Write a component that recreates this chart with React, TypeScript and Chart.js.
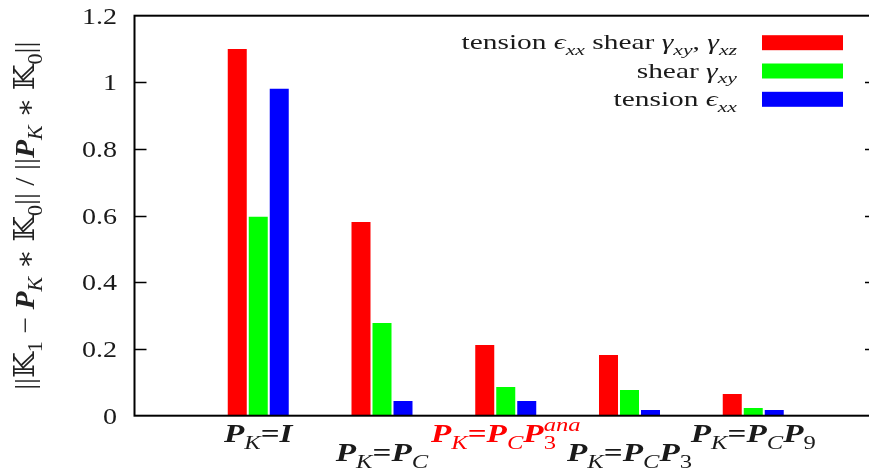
import React, { useEffect, useRef } from 'react';
import { Chart, registerables } from 'chart.js';

Chart.register(...registerables);

// ---------- data ----------
const positions = [1, 2, 3, 4, 5];
const tensionShear = [1.1, 0.581, 0.212, 0.182, 0.065];
const shearOnly = [0.597, 0.278, 0.086, 0.077, 0.023];
const tensionOnly = [0.981, 0.044, 0.044, 0.017, 0.017];
const yMin = 0;
const yMax = 1.2;
const yStep = 0.2;

type Seg = { t: string; f?: 'r' | 'i' | 'b' | 'bi'; sub?: boolean; sup?: boolean; stack?: boolean };

const categoryLabels: Seg[][] = [
  [{ t: 'P', f: 'bi' }, { t: 'K', f: 'i', sub: true }, { t: '=', f: 'b' }, { t: 'I', f: 'bi' }],
  [{ t: 'P', f: 'bi' }, { t: 'K', f: 'i', sub: true }, { t: '=', f: 'b' }, { t: 'P', f: 'bi' }, { t: 'C', f: 'i', sub: true }],
  [
    { t: 'P', f: 'bi' }, { t: 'K', f: 'i', sub: true }, { t: '=', f: 'b' }, { t: 'P', f: 'bi' }, { t: 'C', f: 'i', sub: true },
    { t: 'P', f: 'bi' }, { t: '3', sub: true }, { t: 'ana', f: 'i', sup: true, stack: true },
  ],
  [
    { t: 'P', f: 'bi' }, { t: 'K', f: 'i', sub: true }, { t: '=', f: 'b' }, { t: 'P', f: 'bi' }, { t: 'C', f: 'i', sub: true },
    { t: 'P', f: 'bi' }, { t: '3', sub: true },
  ],
  [
    { t: 'P', f: 'bi' }, { t: 'K', f: 'i', sub: true }, { t: '=', f: 'b' }, { t: 'P', f: 'bi' }, { t: 'C', f: 'i', sub: true },
    { t: 'P', f: 'bi' }, { t: '9', sub: true },
  ],
];
const categoryLabelColors = ['#1a1a1a', '#1a1a1a', '#ff0000', '#1a1a1a', '#1a1a1a'];
const categoryLabelRows = [0, 1, 0, 1, 0];

const seriesNames: Seg[][] = [
  [
    { t: 'tension ' }, { t: 'ϵ', f: 'i' }, { t: 'xx', f: 'i', sub: true }, { t: ' shear ' },
    { t: 'γ', f: 'i' }, { t: 'xy', f: 'i', sub: true }, { t: ', ' }, { t: 'γ', f: 'i' }, { t: 'xz', f: 'i', sub: true },
  ],
  [{ t: 'shear ' }, { t: 'γ', f: 'i' }, { t: 'xy', f: 'i', sub: true }],
  [{ t: 'tension ' }, { t: 'ϵ', f: 'i' }, { t: 'xx', f: 'i', sub: true }],
];
const seriesColors = ['#ff0000', '#00ff00', '#0000ff'];

const yTitle: Seg[] = [
  { t: '||' }, { t: '𝕂' }, { t: '1', sub: true }, { t: ' − ' }, { t: 'P', f: 'bi' }, { t: 'K', f: 'i', sub: true },
  { t: ' ∗ ' }, { t: '𝕂' }, { t: '0', sub: true }, { t: '|| / ||' }, { t: 'P', f: 'bi' }, { t: 'K', f: 'i', sub: true },
  { t: ' ∗ ' }, { t: '𝕂' }, { t: '0', sub: true }, { t: '||' },
];

// ---------- rich text helpers ----------
const FAMILY = '"Liberation Serif", "DejaVu Serif", "DejaVu Sans", serif';
const TEXT = '#1a1a1a';
const SUBSCALE = 0.74;

function segFont(s: Seg, size: number) {
  const sz = s.sub || s.sup ? size * SUBSCALE : size;
  const style = s.f === 'i' || s.f === 'bi' ? 'italic ' : '';
  const weight = s.f === 'b' || s.f === 'bi' ? 'bold ' : '';
  return `${style}${weight}${sz}px ${FAMILY}`;
}

function layoutRich(ctx: CanvasRenderingContext2D, segs: Seg[], size: number) {
  let x = 0;
  let prevStart = 0;
  let prevW = 0;
  const items: { s: Seg; x: number; dy: number }[] = [];
  for (const s of segs) {
    ctx.font = segFont(s, size);
    const w = ctx.measureText(s.t).width;
    const dy = s.sub ? size * 0.28 : s.sup ? -size * 0.45 : 0;
    if (s.stack) {
      items.push({ s, x: prevStart, dy });
      x = Math.max(prevStart + prevW, prevStart + w);
    } else {
      items.push({ s, x, dy });
      prevStart = x;
      prevW = w;
      x += w;
    }
  }
  return { items, width: x };
}

function drawRich(
  ctx: CanvasRenderingContext2D,
  segs: Seg[],
  x: number,
  y: number,
  size: number,
  align: 'left' | 'center' | 'right',
  color: string,
  sx = 1
) {
  const { items, width } = layoutRich(ctx, segs, size);
  const x0 = align === 'left' ? 0 : align === 'center' ? -width / 2 : -width;
  ctx.save();
  ctx.translate(x, y);
  ctx.scale(sx, 1);
  ctx.fillStyle = color;
  ctx.textAlign = 'left';
  ctx.textBaseline = 'alphabetic';
  for (const it of items) {
    ctx.font = segFont(it.s, size);
    ctx.fillText(it.s.t, x0 + it.x, it.dy);
  }
  ctx.restore();
}

// ---------- plugin ----------
const decorPlugin = {
  id: 'decor',
  afterDatasetsDraw(chart: any) {
    const ctx: CanvasRenderingContext2D = chart.ctx;
    const { left, right, top, bottom } = chart.chartArea;
    const xs = chart.scales.x;
    const ys = chart.scales.y;
    ctx.save();
    // frame
    ctx.strokeStyle = '#000';
    ctx.lineWidth = 2;
    ctx.strokeRect(left, top, right - left, bottom - top);
    // inward ticks + tick labels from the y scale's ticks
    ctx.lineWidth = 1.5;
    ys.ticks.forEach((tk: any) => {
      const yy = ys.getPixelForValue(tk.value);
      if (tk.value > yMin + 1e-9 && tk.value < yMax - 1e-9) {
        const y = Math.round(yy) + 0.5;
        ctx.beginPath();
        ctx.moveTo(left, y);
        ctx.lineTo(left + 12, y);
        ctx.moveTo(right - 12, y);
        ctx.lineTo(right, y);
        ctx.stroke();
      }
      drawRich(ctx, [{ t: String(tk.label) }], left - 17.5, yy + 8, 23, 'right', TEXT, 1.22);
    });
    // category labels
    categoryLabels.forEach((segs, i) => {
      const x = xs.getPixelForValue(positions[i]);
      const y = bottom + (categoryLabelRows[i] === 0 ? 26.5 : 45.5);
      drawRich(ctx, segs, x, y, 25, 'center', categoryLabelColors[i], 1.33);
    });
    // legend
    const swLeft = right - 115;
    seriesNames.forEach((segs, i) => {
      const swTop = top + 19.5 + i * 28.3;
      ctx.fillStyle = seriesColors[i];
      ctx.fillRect(swLeft, swTop, 81, 15);
      drawRich(ctx, segs, swLeft - 25, swTop + 14, 21, 'right', TEXT, 1.4);
    });
    // y title
    ctx.save();
    ctx.translate(25, (top + bottom) / 2);
    ctx.rotate(-Math.PI / 2);
    drawRich(ctx, yTitle, 0, 9, 27, 'center', '#222', 1.1);
    ctx.restore();
    ctx.restore();
  },
};

export default function App() {
  const ref = useRef<HTMLCanvasElement>(null);
  useEffect(() => {
    if (!ref.current) return;
    const mk = (arr: number[]) => positions.map((x, i) => ({ x, y: arr[i] }));
    const chart = new Chart(ref.current, {
      type: 'bar',
      data: {
        datasets: [
          { label: 'tension shear', data: mk(tensionShear) as any, backgroundColor: seriesColors[0] },
          { label: 'shear', data: mk(shearOnly) as any, backgroundColor: seriesColors[1] },
          { label: 'tension', data: mk(tensionOnly) as any, backgroundColor: seriesColors[2] },
        ],
      },
      options: {
        responsive: false,
        animation: false,
        events: [],
        layout: { padding: { top: 15.7, bottom: 54.3, left: 0, right: 3 } },
        datasets: { bar: { categoryPercentage: 0.509, barPercentage: 0.905 } } as any,
        plugins: { legend: { display: false }, tooltip: { enabled: false } },
        scales: {
          x: { type: 'linear', min: 0, max: 6, display: false, offset: false } as any,
          y: {
            min: yMin,
            max: yMax,
            ticks: {
              display: false,
              stepSize: yStep,
              callback: (v: any) => String(+Number(v).toFixed(1)),
            },
            grid: { display: false, drawTicks: false },
            border: { display: false },
            afterFit: (s: any) => {
              s.width = 134.5;
            },
          } as any,
        },
      },
      plugins: [decorPlugin],
    });
    return () => chart.destroy();
  }, []);
  return (
    <div
      style={{
        position: 'fixed',
        left: 0,
        top: 0,
        width: 869,
        height: 470,
        overflow: 'hidden',
        background: '#fff',
      }}
    >
      <canvas ref={ref} width={880} height={470} style={{ display: 'block' }} />
    </div>
  );
}
